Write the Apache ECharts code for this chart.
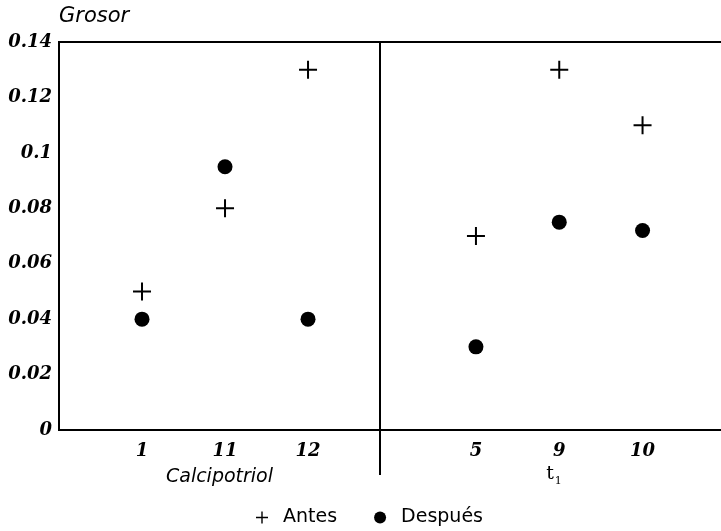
<!DOCTYPE html>
<html>
<head>
<meta charset="utf-8">
<title>Grosor</title>
<style>
html, body { margin: 0; padding: 0; background: #fff; }
#chart { width: 721px; height: 531px; }
</style>
</head>
<body>
<div id="chart"></div>
<script src="https://cdn.jsdelivr.net/npm/echarts@6/dist/echarts.min.js"></script>
<script>
// datos
var calCats = ['1', '11', '12'];
var calAntes = [0.05, 0.08, 0.13];
var calDespues = [0.04, 0.095, 0.04];

var t1Cats = ['5', '9', '10'];
var t1Antes = [0.07, 0.13, 0.11];
var t1Despues = [0.03, 0.075, 0.072];

var plus = 'path://M8,0h2v8h8v2h-8v8h-2v-8h-8v-2h8z';
var plusLeg = 'path://M5.3,0h1.4v5.3h5.3v1.4h-5.3v5.3h-1.4v-5.3h-5.3v-1.4h5.3z';

function pts(vals) {
  var out = [];
  for (var i = 0; i < vals.length; i++) {
    out.push([i + 1, vals[i]]);
  }
  return out;
}

var labelFont = {
  fontFamily: 'DejaVu Serif', fontStyle: 'italic', fontWeight: 'bold',
  fontSize: 18, color: '#000'
};

function xAxis(idx, cats, min, max, name) {
  return {
    type: 'value', gridIndex: idx, min: min, max: max,
    axisLine: { show: false },
    axisTick: { show: false },
    splitLine: { show: false },
    axisLabel: Object.assign({
      customValues: [1, 2, 3],
      margin: 12,
      formatter: function (v) { return cats[Math.round(v) - 1] || ''; }
    }, labelFont),
    name: name,
    nameLocation: 'middle',
    nameGap: idx === 0 ? 38 : 32,
    nameTextStyle: idx === 0 ? {
      fontFamily: 'DejaVu Sans', fontStyle: 'italic', fontSize: 19, color: '#000'
    } : {
      padding: [0, 22, 0, 0],
      rich: {
        t: { fontFamily: 'DejaVu Serif', fontSize: 19, color: '#000' },
        s: { fontFamily: 'DejaVu Serif', fontSize: 11, color: '#000', padding: [14, 0, 0, 1] }
      }
    }
  };
}

var chart = echarts.init(document.getElementById('chart'));
chart.setOption({
  animation: false,
  grid: [
    { left: 59, top: 42, width: 321, height: 388, show: true, borderColor: '#000', borderWidth: 2,
      outerBoundsMode: 'none' },
    { left: 380, top: 42, width: 370, height: 388, show: true, borderColor: '#000', borderWidth: 2,
      outerBoundsMode: 'none' }
  ],
  xAxis: [
    xAxis(0, calCats, 0, 3.867, 'Calcipotriol'),
    xAxis(1, t1Cats, -0.152, 4.29, '{t|t}{s|1}')
  ],
  yAxis: [
    {
      type: 'value', gridIndex: 0, min: 0, max: 0.14, interval: 0.02,
      axisLine: { show: false }, axisTick: { show: false }, splitLine: { show: false },
      axisLabel: Object.assign({ margin: 7 }, labelFont),
      name: 'Grosor',
      nameGap: 15,
      nameTextStyle: {
        fontFamily: 'DejaVu Sans', fontStyle: 'italic', fontSize: 21,
        color: '#000', align: 'left'
      }
    },
    {
      type: 'value', gridIndex: 1, min: 0, max: 0.14, interval: 0.02,
      axisLine: { show: false }, axisTick: { show: false }, splitLine: { show: false },
      axisLabel: { show: false }
    }
  ],
  legend: {
    top: 506,
    left: 254,
    padding: 2,
    itemGap: 37,
    itemWidth: 12,
    itemHeight: 12,
    textStyle: { fontFamily: 'DejaVu Sans', fontSize: 19, color: '#000', padding: [0, 0, 0, 10] },
    data: [
      { name: 'Antes', icon: plusLeg },
      { name: 'Después', icon: 'circle', itemStyle: { color: '#000' } }
    ]
  },
  graphic: [
    {
      type: 'line',
      shape: { x1: 380, y1: 430, x2: 380, y2: 475 },
      style: { stroke: '#000', lineWidth: 2 }
    }
  ],
  series: [
    { name: 'Antes', type: 'scatter', xAxisIndex: 0, yAxisIndex: 0, symbol: plus, symbolSize: 18,
      itemStyle: { color: '#000', opacity: 1 }, data: pts(calAntes) },
    { name: 'Antes', type: 'scatter', xAxisIndex: 1, yAxisIndex: 1, symbol: plus, symbolSize: 18,
      itemStyle: { color: '#000', opacity: 1 }, data: pts(t1Antes) },
    { name: 'Después', type: 'scatter', xAxisIndex: 0, yAxisIndex: 0, symbol: 'circle', symbolSize: 15,
      itemStyle: { color: '#000', opacity: 1 }, data: pts(calDespues) },
    { name: 'Después', type: 'scatter', xAxisIndex: 1, yAxisIndex: 1, symbol: 'circle', symbolSize: 15,
      itemStyle: { color: '#000', opacity: 1 }, data: pts(t1Despues) }
  ]
});
</script>
</body>
</html>
